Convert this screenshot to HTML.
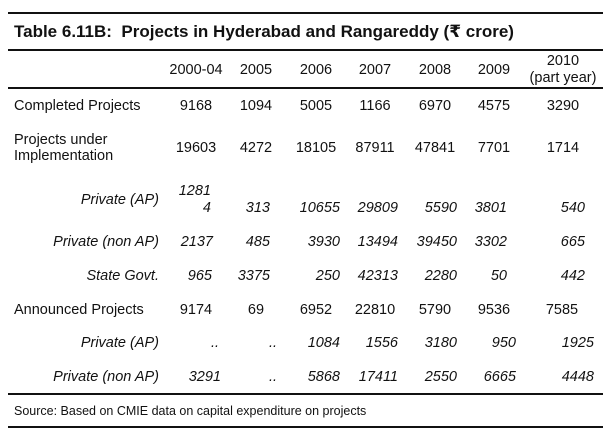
<!DOCTYPE html>
<html><head><meta charset="utf-8"><style>
body{margin:0;background:#fff;}
#c{position:relative;width:612px;height:442px;background:#fff;font-family:"Liberation Sans","DejaVu Sans",sans-serif;color:#111;font-size:14.5px;}
.l{position:absolute;left:8px;width:595px;background:#111;}
.t{position:absolute;white-space:nowrap;line-height:16px;}
.c{transform:translateX(-50%);}
.r{transform:translateX(-100%);}
.i{font-style:italic;}
</style></head><body><div id="c">
<div class="l" style="top:12px;height:2px;"></div>
<div class="t" style="left:14px;top:24px;font-weight:bold;font-size:17px;">Table 6.11B:&nbsp; Projects in Hyderabad and Rangareddy (₹ crore)</div>
<div class="l" style="top:49px;height:2px;"></div>
<div class="l" style="top:87px;height:2px;"></div>
<div class="l" style="top:393px;height:2px;"></div>
<div class="l" style="top:426px;height:2px;"></div>

<div class="t c" style="left:196px;top:62px;">2000-04</div>
<div class="t c" style="left:256px;top:62px;">2005</div>
<div class="t c" style="left:316px;top:62px;">2006</div>
<div class="t c" style="left:375px;top:62px;">2007</div>
<div class="t c" style="left:435px;top:62px;">2008</div>
<div class="t c" style="left:494px;top:62px;">2009</div>
<div class="t c" style="left:563px;top:53px;">2010</div>
<div class="t c" style="left:563px;top:70px;">(part year)</div>

<div class="t" style="left:14px;top:98px;">Completed Projects</div>
<div class="t c" style="left:196px;top:98px;">9168</div>
<div class="t c" style="left:256px;top:98px;">1094</div>
<div class="t c" style="left:316px;top:98px;">5005</div>
<div class="t c" style="left:375px;top:98px;">1166</div>
<div class="t c" style="left:435px;top:98px;">6970</div>
<div class="t c" style="left:494px;top:98px;">4575</div>
<div class="t c" style="left:563px;top:98px;">3290</div>

<div class="t" style="left:14px;top:132px;">Projects under</div>
<div class="t" style="left:14px;top:148px;">Implementation</div>
<div class="t c" style="left:196px;top:140px;">19603</div>
<div class="t c" style="left:256px;top:140px;">4272</div>
<div class="t c" style="left:316px;top:140px;">18105</div>
<div class="t c" style="left:375px;top:140px;">87911</div>
<div class="t c" style="left:435px;top:140px;">47841</div>
<div class="t c" style="left:494px;top:140px;">7701</div>
<div class="t c" style="left:563px;top:140px;">1714</div>

<div class="t r i" style="left:159px;top:192px;">Private (AP)</div>
<div class="t r i" style="left:211px;top:183px;">1281</div>
<div class="t r i" style="left:211px;top:200px;">4</div>
<div class="t r i" style="left:270px;top:200px;">313</div>
<div class="t r i" style="left:340px;top:200px;">10655</div>
<div class="t r i" style="left:398px;top:200px;">29809</div>
<div class="t r i" style="left:457px;top:200px;">5590</div>
<div class="t r i" style="left:507px;top:200px;">3801</div>
<div class="t r i" style="left:585px;top:200px;">540</div>

<div class="t r i" style="left:159px;top:234px;">Private (non AP)</div>
<div class="t r i" style="left:213px;top:234px;">2137</div>
<div class="t r i" style="left:270px;top:234px;">485</div>
<div class="t r i" style="left:340px;top:234px;">3930</div>
<div class="t r i" style="left:398px;top:234px;">13494</div>
<div class="t r i" style="left:457px;top:234px;">39450</div>
<div class="t r i" style="left:507px;top:234px;">3302</div>
<div class="t r i" style="left:585px;top:234px;">665</div>

<div class="t r i" style="left:159px;top:268px;">State Govt.</div>
<div class="t r i" style="left:212px;top:268px;">965</div>
<div class="t r i" style="left:270px;top:268px;">3375</div>
<div class="t r i" style="left:340px;top:268px;">250</div>
<div class="t r i" style="left:398px;top:268px;">42313</div>
<div class="t r i" style="left:457px;top:268px;">2280</div>
<div class="t r i" style="left:507px;top:268px;">50</div>
<div class="t r i" style="left:585px;top:268px;">442</div>

<div class="t" style="left:14px;top:302px;">Announced Projects</div>
<div class="t c" style="left:196px;top:302px;">9174</div>
<div class="t c" style="left:256px;top:302px;">69</div>
<div class="t c" style="left:316px;top:302px;">6952</div>
<div class="t c" style="left:375px;top:302px;">22810</div>
<div class="t c" style="left:435px;top:302px;">5790</div>
<div class="t c" style="left:494px;top:302px;">9536</div>
<div class="t c" style="left:562px;top:302px;">7585</div>

<div class="t r i" style="left:159px;top:335px;">Private (AP)</div>
<div class="t r i" style="left:219px;top:335px;">..</div>
<div class="t r i" style="left:277px;top:335px;">..</div>
<div class="t r i" style="left:340px;top:335px;">1084</div>
<div class="t r i" style="left:398px;top:335px;">1556</div>
<div class="t r i" style="left:457px;top:335px;">3180</div>
<div class="t r i" style="left:516px;top:335px;">950</div>
<div class="t r i" style="left:594px;top:335px;">1925</div>

<div class="t r i" style="left:159px;top:369px;">Private (non AP)</div>
<div class="t r i" style="left:221px;top:369px;">3291</div>
<div class="t r i" style="left:277px;top:369px;">..</div>
<div class="t r i" style="left:340px;top:369px;">5868</div>
<div class="t r i" style="left:398px;top:369px;">17411</div>
<div class="t r i" style="left:457px;top:369px;">2550</div>
<div class="t r i" style="left:516px;top:369px;">6665</div>
<div class="t r i" style="left:594px;top:369px;">4448</div>

<div class="t" style="left:14px;top:403px;font-size:12.5px;">Source: Based on CMIE data on capital expenditure on projects</div>
</div></body></html>
